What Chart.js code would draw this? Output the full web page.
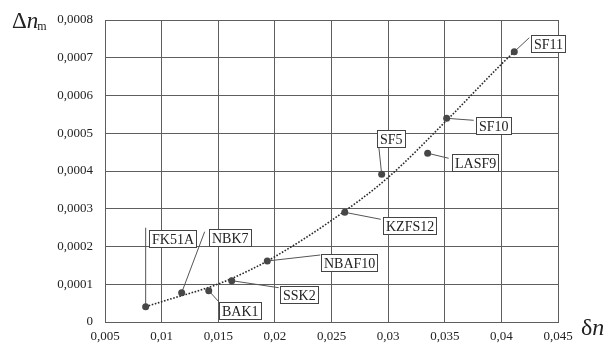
<!DOCTYPE html>
<html>
<head>
<meta charset="utf-8">
<script src="https://cdn.jsdelivr.net/npm/chart.js@4"></script>
<style>
html,body{margin:0;padding:0;background:#fff;}
#wrap{width:614px;height:345px;}
</style>
</head>
<body>
<div id="wrap"><canvas id="c" width="614" height="345"></canvas></div>
<script>
// ---- data ----
const glassNames = ['FK51A','NBK7','BAK1','SSK2','NBAF10','KZFS12','SF5','LASF9','SF10','SF11'];
const glassDn    = [0.00859,0.01177,0.01416,0.01619,0.01933,0.02617,0.02943,0.03349,0.03517,0.04114];
const glassDnm   = [0.0000405,0.0000776,0.0000829,0.0001094,0.0001616,0.0002906,0.0003912,0.000447,0.0005396,0.000716];

// dotted trend line, sampled along the curve in the picture
const trendDn  = [0.00859,0.01,0.015,0.0178,0.02,0.025,0.03,0.0352,0.04,0.04114];
const trendDnm = [0.0000405,0.0000538,0.0001007,0.0001377,0.000173,0.000269,0.000383,0.000535,0.000683,0.000716];

const xTickValues = [0.005,0.01,0.015,0.02,0.025,0.03,0.035,0.04,0.045];
const xTickLabels = ['0,005','0,01','0,015','0,02','0,025','0,03','0,035','0,04','0,045'];
const yTickValues = [0,0.0001,0.0002,0.0003,0.0004,0.0005,0.0006,0.0007,0.0008];
const yTickLabels = ['0','0,0001','0,0002','0,0003','0,0004','0,0005','0,0006','0,0007','0,0008'];

// label layout (pixel offsets from each point): box top-left, leader end
const labelBoxOffset = [[3,-77],[27,-64],[10,11],[48,5],[54,-7],[38,5],[-5,-44],[24,1],[29,-1],[17,-17]];
const leaderEndOffset = [[0,-79],[23,-61],[10,11],[47,7],[53,-6],[36,7],[-3,-29],[21,5],[27,2],[15,-14]];

const SERIF = '"Liberation Serif","DejaVu Serif",serif';
const TXT = '#222';
const GRID = '#5e5e5e';

const labelPlugin = {
  id: 'glassLabels',
  afterDatasetsDraw(chart) {
    const ctx = chart.ctx;
    const xs = chart.scales.x, ys = chart.scales.y;
    ctx.save();
    ctx.font = '14px ' + SERIF;
    ctx.textBaseline = 'alphabetic';
    glassNames.forEach((name, i) => {
      const px = xs.getPixelForValue(glassDn[i]);
      const py = ys.getPixelForValue(glassDnm[i]);
      const bx = Math.round(px + labelBoxOffset[i][0]) + 0.5;
      const by = Math.round(py + labelBoxOffset[i][1]) + 0.5;
      const tw = ctx.measureText(name).width;
      const bw = Math.round(tw + 5), bh = 17;
      // leader
      ctx.strokeStyle = '#555';
      ctx.lineWidth = 1;
      ctx.beginPath();
      ctx.moveTo(px, py);
      ctx.lineTo(px + leaderEndOffset[i][0], py + leaderEndOffset[i][1]);
      ctx.stroke();
      // box
      ctx.fillStyle = '#fff';
      ctx.fillRect(bx, by, bw, bh);
      ctx.strokeStyle = '#444';
      ctx.strokeRect(bx, by, bw, bh);
      ctx.fillStyle = TXT;
      ctx.fillText(name, bx + 2.5, by + 13.5);
    });
    // redraw points on top of leaders
    ctx.fillStyle = '#474747';
    glassNames.forEach((name, i) => {
      const px = xs.getPixelForValue(glassDn[i]);
      const py = ys.getPixelForValue(glassDnm[i]);
      ctx.beginPath();
      ctx.arc(px, py, 3.5, 0, Math.PI * 2);
      ctx.fill();
    });
    ctx.restore();
  },
  afterDraw(chart) {
    const ctx = chart.ctx;
    ctx.save();
    ctx.fillStyle = TXT;
    ctx.textBaseline = 'alphabetic';
    // y title: Δn_m
    ctx.font = '23px ' + SERIF;
    ctx.fillText('\u0394', 12, 28);
    let w = ctx.measureText('\u0394').width;
    ctx.font = 'italic 23px ' + SERIF;
    ctx.fillText('n', 12 + w, 28);
    let w2 = ctx.measureText('n').width;
    ctx.font = '12px ' + SERIF;
    ctx.fillText('m', 12 + w + w2 - 1, 30);
    // x title: δn
    ctx.font = '24px ' + SERIF;
    ctx.fillText('\u03B4', 581, 335);
    w = ctx.measureText('\u03B4').width;
    ctx.font = 'italic 24px ' + SERIF;
    ctx.fillText('n', 581 + w, 335);
    ctx.restore();
  }
};

new Chart(document.getElementById('c'), {
  type: 'scatter',
  data: {
    datasets: [
      {
        data: trendDn.map((x, i) => ({x, y: trendDnm[i]})),
        showLine: true,
        borderColor: '#2a2a2a',
        borderWidth: 1.6,
        borderDash: [1.6, 1.6],
        pointRadius: 0,
        cubicInterpolationMode: 'monotone',
        fill: false
      },
      {
        data: glassDn.map((x, i) => ({x, y: glassDnm[i]})),
        pointRadius: 0,
        backgroundColor: '#474747',
        borderWidth: 0
      }
    ]
  },
  options: {
    responsive: false,
    animation: false,
    devicePixelRatio: 1,
    layout: { padding: { left: 0, right: 56, top: 20, bottom: 0 } },
    plugins: { legend: { display: false }, tooltip: { enabled: false } },
    scales: {
      x: {
        type: 'linear',
        min: 0.005, max: 0.045,
        afterBuildTicks: s => { s.ticks = xTickValues.map(v => ({value: v})); },
        afterFit: s => { s.height = 23; },
        grid: { color: GRID, lineWidth: 1, drawTicks: false },
        border: { color: GRID, width: 1 },
        ticks: {
          padding: 7,
          color: TXT,
          font: { family: SERIF, size: 13 },
          maxRotation: 0,
          autoSkip: false,
          callback: (v, i) => xTickLabels[i]
        }
      },
      y: {
        type: 'linear',
        min: 0, max: 0.0008,
        afterBuildTicks: s => { s.ticks = yTickValues.map(v => ({value: v})); },
        afterFit: s => { s.width = 105; },
        grid: { color: GRID, lineWidth: 1, drawTicks: false },
        border: { color: GRID, width: 1 },
        ticks: {
          padding: 12,
          color: TXT,
          font: { family: SERIF, size: 13 },
          autoSkip: false,
          callback: (v, i) => yTickLabels[i]
        }
      }
    }
  },
  plugins: [labelPlugin]
});
</script>
</body>
</html>
